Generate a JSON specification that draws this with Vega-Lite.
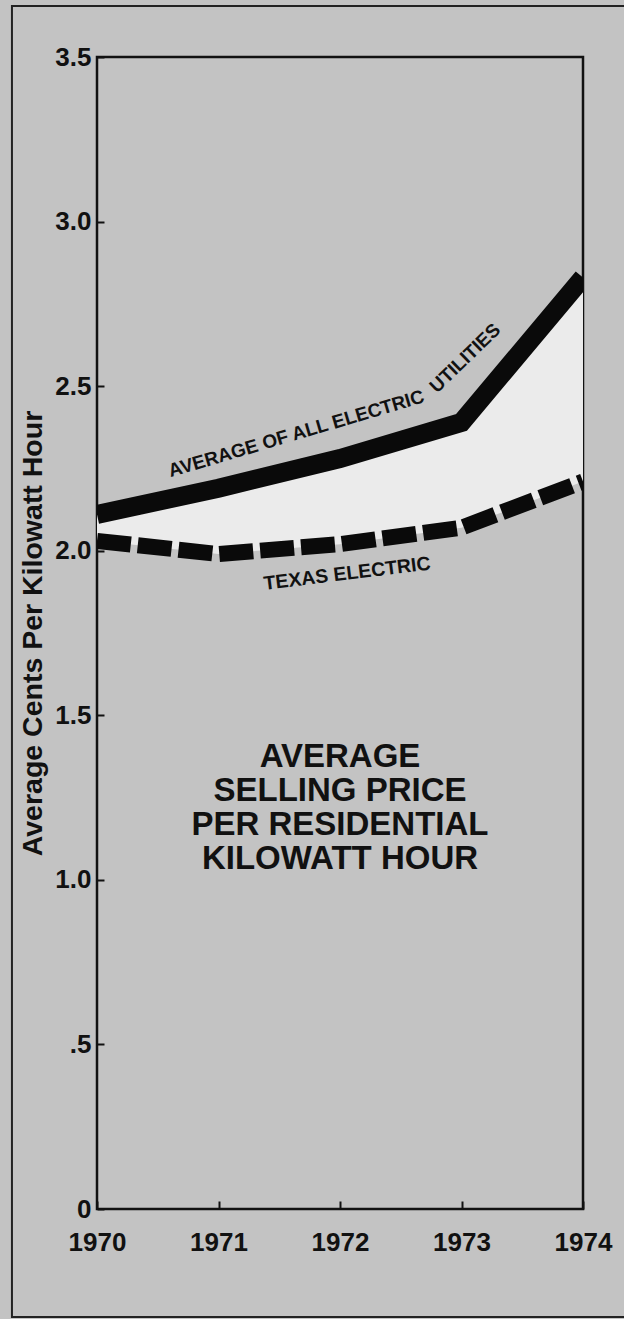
{
  "$schema": "https://vega.github.io/schema/vega-lite/v6.json",
  "width": 486,
  "height": 1152,
  "autosize": {"type": "none"},
  "padding": {"left": 97, "top": 57, "right": 41, "bottom": 110},
  "background": "#c3c3c3",
  "config": {
    "font": "Liberation Sans",
    "view": {"stroke": "#111111", "strokeWidth": 2.5, "fill": "#c3c3c3"},
    "axis": {
      "domain": false,
      "grid": false,
      "tickColor": "#111111",
      "tickWidth": 2,
      "labelColor": "#111111",
      "labelFont": "Liberation Sans",
      "labelFontWeight": "bold",
      "labelFontSize": 26,
      "titleColor": "#111111",
      "titleFont": "Liberation Sans",
      "titleFontWeight": "bold"
    }
  },
  "data": {
    "values": [
      {"year": 1970, "avg": 2.11, "texas": 2.03},
      {"year": 1971, "avg": 2.19, "texas": 1.99},
      {"year": 1972, "avg": 2.28, "texas": 2.02},
      {"year": 1973, "avg": 2.39, "texas": 2.07},
      {"year": 1974, "avg": 2.83, "texas": 2.21}
    ]
  },
  "layer": [
    {
      "mark": {"type": "area", "color": "#ebebeb", "clip": true},
      "encoding": {
        "x": {
          "field": "year",
          "type": "quantitative",
          "title": null,
          "scale": {"domain": [1970, 1974], "nice": false, "zero": false},
          "axis": {
            "values": [1970, 1971, 1972, 1973, 1974],
            "format": "d",
            "title": null,
            "tickSize": -8,
            "labelPadding": 28,
            "labelFlush": false
          }
        },
        "y": {
          "field": "avg",
          "type": "quantitative",
          "title": "Average Cents Per Kilowatt Hour",
          "scale": {"domain": [0, 3.5], "nice": false, "zero": true},
          "axis": {
            "values": [0, 0.5, 1, 1.5, 2, 2.5, 3, 3.5],
            "labelExpr": "datum.value == 0 ? '0' : datum.value == 0.5 ? '.5' : format(datum.value, '.1f')",
            "title": "Average Cents Per Kilowatt Hour",
            "titleFontSize": 28.5,
            "titlePadding": 7,
            "tickSize": -7,
            "labelPadding": 13,
            "labelFlush": false
          }
        },
        "y2": {"field": "texas"}
      }
    },
    {
      "mark": {"type": "line", "color": "#0a0a0a", "strokeWidth": 19, "strokeJoin": "miter", "strokeCap": "butt", "clip": true},
      "encoding": {
        "x": {"field": "year", "type": "quantitative", "title": null},
        "y": {"field": "avg", "type": "quantitative", "title": "Average Cents Per Kilowatt Hour"}
      }
    },
    {
      "mark": {"type": "line", "color": "#0a0a0a", "strokeWidth": 16, "strokeDash": [34, 7], "strokeJoin": "miter", "strokeCap": "butt", "clip": true},
      "encoding": {
        "x": {"field": "year", "type": "quantitative", "title": null},
        "y": {"field": "texas", "type": "quantitative", "title": "Average Cents Per Kilowatt Hour"}
      }
    },
    {
      "data": {"values": [{"t": "AVERAGE OF ALL ELECTRIC"}]},
      "mark": {"type": "text", "angle": -16.5, "fontSize": 19, "fontWeight": "bold", "color": "#111111", "align": "center", "baseline": "middle"},
      "encoding": {
        "x": {"datum": 1971.64, "type": "quantitative"},
        "y": {"datum": 2.355, "type": "quantitative"},
        "text": {"field": "t"}
      }
    },
    {
      "data": {"values": [{"t": "UTILITIES"}]},
      "mark": {"type": "text", "angle": -44, "fontSize": 19, "fontWeight": "bold", "color": "#111111", "align": "center", "baseline": "middle"},
      "encoding": {
        "x": {"datum": 1973.03, "type": "quantitative"},
        "y": {"datum": 2.585, "type": "quantitative"},
        "text": {"field": "t"}
      }
    },
    {
      "data": {"values": [{"t": "TEXAS ELECTRIC"}]},
      "mark": {"type": "text", "angle": -7, "fontSize": 19.5, "fontWeight": "bold", "color": "#111111", "align": "center", "baseline": "middle"},
      "encoding": {
        "x": {"datum": 1972.058, "type": "quantitative"},
        "y": {"datum": 1.93, "type": "quantitative"},
        "text": {"field": "t"}
      }
    },
    {
      "data": {"values": [{"t": "AVERAGE\nSELLING PRICE\nPER RESIDENTIAL\nKILOWATT HOUR"}]},
      "mark": {"type": "text", "lineBreak": "\n", "lineHeight": 34, "fontSize": 33, "fontWeight": "bold", "color": "#111111", "align": "center", "baseline": "middle"},
      "encoding": {
        "x": {"datum": 1972.0, "type": "quantitative"},
        "y": {"datum": 1.373, "type": "quantitative"},
        "text": {"field": "t"}
      }
    },
    {
      "data": {"values": [{"t": "frame"}]},
      "mark": {"type": "rect", "fill": null, "fillOpacity": 0, "stroke": "#222222", "strokeWidth": 2, "clip": false},
      "encoding": {
        "x": {"datum": 1969.3, "type": "quantitative"},
        "x2": {"datum": 1974.4},
        "y": {"datum": 3.655, "type": "quantitative"},
        "y2": {"datum": -0.328}
      }
    }
  ]
}
